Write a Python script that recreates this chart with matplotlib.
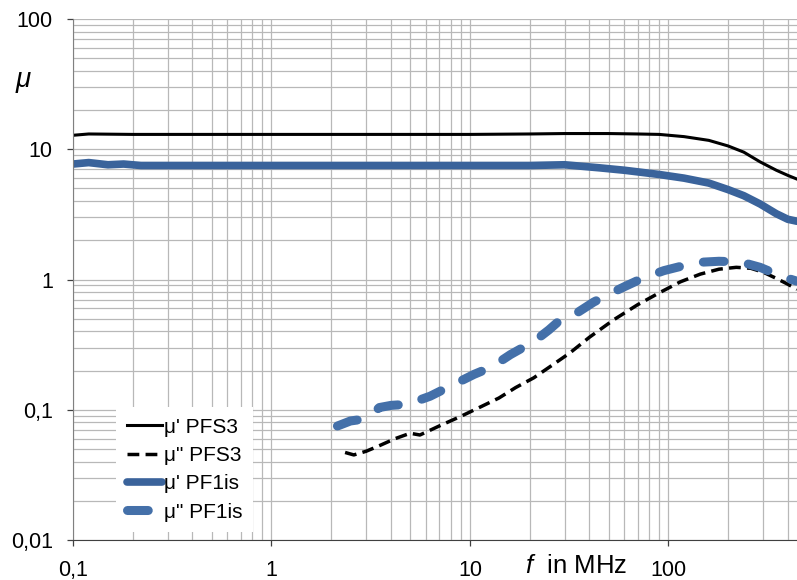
import matplotlib
matplotlib.use("Agg")
import matplotlib.pyplot as plt
from matplotlib.ticker import FixedLocator, LogLocator, NullFormatter, FuncFormatter

plt.rcParams['font.family'] = ['Liberation Sans', 'DejaVu Sans']
plt.rcParams['mathtext.fontset'] = 'custom'
plt.rcParams['mathtext.it'] = 'Liberation Sans:italic'
plt.rcParams['mathtext.rm'] = 'Liberation Sans'

# mu' PFS3
f_pfs3_re = [0.1, 0.12, 0.2, 0.5, 1, 2, 5, 10, 20, 30, 50, 70, 90, 120, 160,
             200, 240, 290, 350, 400, 445]
mu_pfs3_re = [12.8, 13.1, 13.0, 13.0, 13.0, 13.0, 13.0, 13.0, 13.1, 13.2, 13.2,
              13.1, 13.0, 12.5, 11.7, 10.6, 9.5, 8.0, 6.9, 6.3, 5.9]

# mu'' PFS3
f_pfs3_im = [2.35, 2.6, 3.0, 3.5, 4.2, 5.0, 5.6, 7.0, 9.0, 11, 14, 17, 21, 26,
             32, 40, 53, 70, 90, 115, 145, 180, 220, 260, 300, 350, 400, 445]
mu_pfs3_im = [0.047, 0.045, 0.048, 0.053, 0.060, 0.066, 0.064, 0.075, 0.089,
              0.103, 0.123, 0.148, 0.176, 0.22, 0.274, 0.36, 0.49, 0.64, 0.79,
              0.96, 1.10, 1.20, 1.24, 1.22, 1.14, 1.02, 0.92, 0.84]

# mu' PF1is
f_pf1_re = [0.1, 0.12, 0.15, 0.18, 0.22, 0.3, 0.5, 1, 2, 5, 10, 20, 30, 45, 60,
            90, 120, 160, 200, 240, 290, 350, 400, 445]
mu_pf1_re = [7.7, 7.9, 7.6, 7.7, 7.5, 7.5, 7.5, 7.5, 7.5, 7.5, 7.5, 7.5, 7.6,
             7.2, 6.9, 6.4, 6.0, 5.5, 4.9, 4.4, 3.8, 3.2, 2.9, 2.8]

# mu'' PF1is
f_pf1_im = [2.15, 2.5, 2.8, 3.1, 3.5, 4.0, 4.8, 5.5, 6.3, 7.5, 8.9, 10.5, 12.6,
            14.5, 16, 18.5, 21.6, 25, 29, 35, 42, 50, 60, 75, 95, 120, 150, 180,
            210, 250, 290, 350, 400, 445]
mu_pf1_im = [0.075, 0.082, 0.084, 0.089, 0.104, 0.108, 0.110, 0.118, 0.127,
             0.145, 0.165, 0.187, 0.21, 0.24, 0.265, 0.30, 0.345, 0.41, 0.50,
             0.56, 0.67, 0.77, 0.88, 1.03, 1.17, 1.28, 1.36, 1.38, 1.37, 1.32,
             1.24, 1.10, 1.02, 0.97]

x_ticks = [0.1, 1, 10, 100]
y_ticks = [0.01, 0.1, 1, 10, 100]

blue = '#3a639b'
blue_dash = '#4470a9'

fig = plt.figure(figsize=(7.97, 5.80), dpi=100)
ax = fig.add_axes([73 / 797, 40 / 580, 724 / 797, 521 / 580])

ax.plot(f_pfs3_re, mu_pfs3_re, color='black', lw=2.2, label="μ' PFS3")
ax.plot(f_pfs3_im, mu_pfs3_im, color='black', lw=2.5, dashes=(3.4, 1.8),
        label='μ" PFS3')
ax.plot(f_pf1_re, mu_pf1_re, color=blue, lw=5.5, solid_capstyle='round',
        label="μ' PF1is")
ax.plot(f_pf1_im, mu_pf1_im, color=blue_dash, lw=6.5, dashes=(2.3, 2.7),
        dash_capstyle='round', label='μ" PF1is')

ax.set_xscale('log')
ax.set_yscale('log')
ax.set_xlim(0.1, 445)
ax.set_ylim(0.01, 100)

ax.xaxis.set_major_locator(FixedLocator(x_ticks))
ax.yaxis.set_major_locator(FixedLocator(y_ticks))
ax.xaxis.set_minor_locator(LogLocator(base=10, subs=range(2, 10)))
ax.yaxis.set_minor_locator(LogLocator(base=10, subs=range(2, 10)))
ax.xaxis.set_minor_formatter(NullFormatter())
ax.yaxis.set_minor_formatter(NullFormatter())
fmt = FuncFormatter(lambda v, p: ('%g' % v).replace('.', ','))
ax.xaxis.set_major_formatter(fmt)
ax.yaxis.set_major_formatter(fmt)

ax.grid(True, which='both', color='#b8b8b8', lw=0.9)
ax.set_axisbelow(True)
ax.tick_params(which='major', direction='out', length=4.5, width=0.9,
               color='#404040', labelsize=15.5, pad=10)
ax.tick_params(which='minor', length=0)
for s in ['top', 'right']:
    ax.spines[s].set_visible(False)
ax.spines['left'].set_color('#808080')
ax.spines['bottom'].set_color('#404040')

fig.text(23 / 797, 1 - 80 / 580, 'μ', fontsize=20, style='italic',
         ha='center', va='center')
fig.text(576 / 797, 1 - 566 / 580, r'$f$  in MHz', fontsize=18.5,
         ha='center', va='center')

leg = ax.legend(loc='lower left', bbox_to_anchor=(0.06, 0.015), fontsize=15,
                frameon=True, fancybox=False, handlelength=1.7,
                handletextpad=0.1, labelspacing=0.45, borderpad=0.5,
                borderaxespad=0)
leg.get_frame().set_facecolor('white')
leg.get_frame().set_edgecolor('none')
leg.get_frame().set_alpha(1)

fig.savefig('out.png', dpi=100)
